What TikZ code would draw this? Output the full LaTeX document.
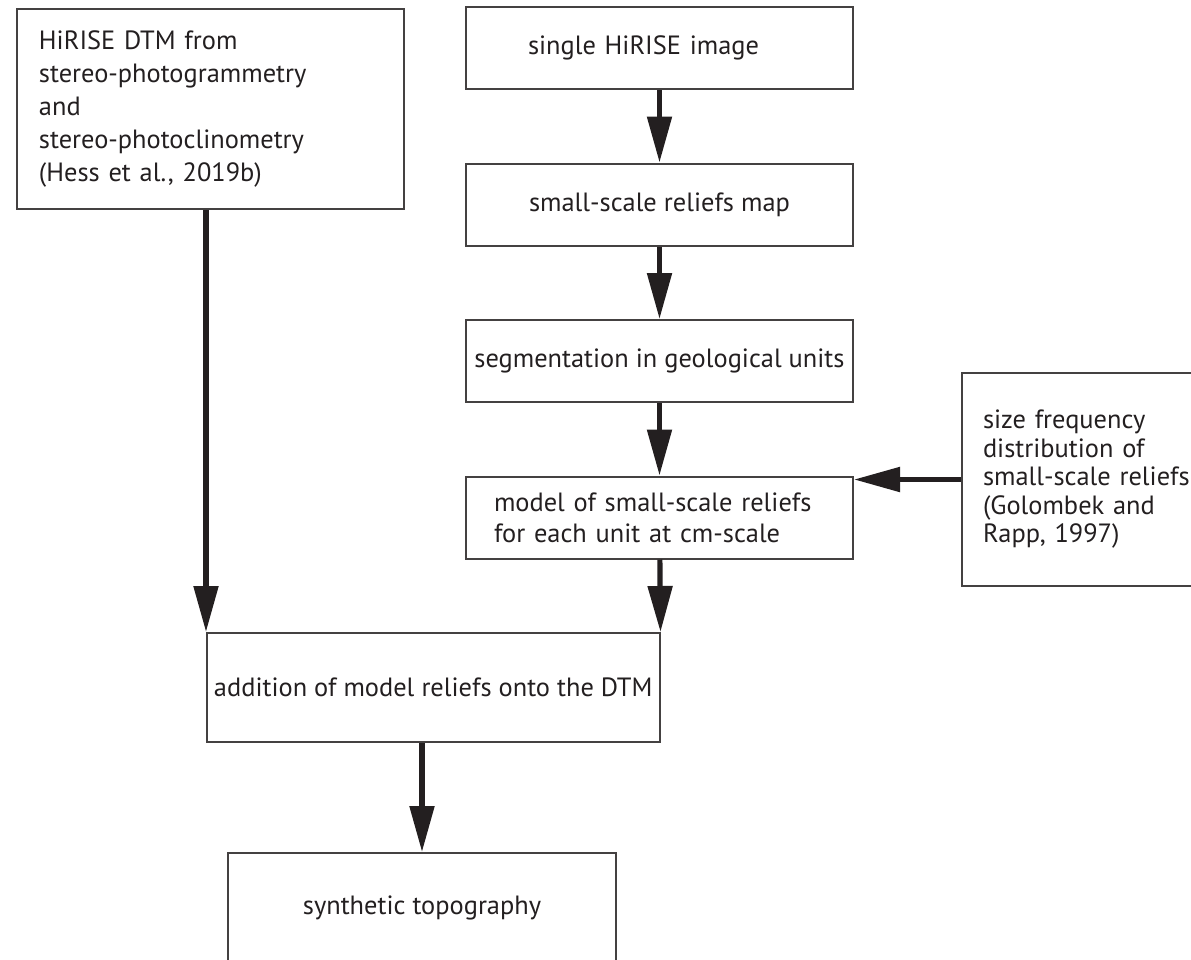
\documentclass[tikz,border=0pt]{standalone}
\usepackage{fontspec}
\setmainfont{PT Sans}
\usepackage{tikz}
\usetikzlibrary{positioning,arrows.meta}
\definecolor{ink}{HTML}{231F20}

\begin{document}
\begin{tikzpicture}[%
x=0.5pt, y=-0.5pt,%
every node/.style={font=\fontsize{13.2}{16.5}\selectfont, text=ink},%
box/.style={draw=ink!85, line width=1pt, inner sep=0pt, minimum width=193.5pt, minimum height=41pt},%
leftbox/.style={box, align=left},%
flow/.style={->,>={Triangle[length=23pt,width=12pt]}, line width=2.6pt, draw=ink},%
node distance=78.25pt,%
  ]
    \useasboundingbox (0,0) rectangle (1191,960);

    % left input
    \node[leftbox, inner xsep=11pt, text width=171pt, minimum height=100pt] (dtm) at (210,109)
      {HiRISE DTM from\\ stereo-photogrammetry\\ and\\ stereo-photoclinometry\\ (Hess et al., 2019b)};

    % right column
    \node[leftbox, inner xsep=31pt, text width=131.5pt] (img) at (659.5,48) {single HiRISE image};

    \node[box] (map) [below of=img] {small-scale reliefs map};

    \node[box] (seg) [below of=map] {segmentation in geological units};

    \node[leftbox, inner xsep=14pt, text width=165.5pt, font=\fontsize{13.2}{15.5}\selectfont] (unit) [below of=seg]
      {model of small-scale reliefs\\ for each unit at cm-scale};

    \node[leftbox, inner xsep=10.5pt, text width=114pt, minimum width=135pt, minimum height=106.5pt,
      font=\fontsize{13.2}{14.25}\selectfont] (sfd) at (1097,479.5)
      {size frequency\\ distribution of\\ small-scale reliefs\\ (Golombek and\\ Rapp, 1997)};

    % merge and output
    \node[box, minimum width=226.25pt, minimum height=54.5pt] (add) at (433.25,687.5)
      {addition of model reliefs onto the DTM};

    \node[box, minimum width=194pt, minimum height=54.5pt] (topo) at (422,907.5) {synthetic topography};

        \draw[flow] (img) -- (map);
        \draw[flow] (map) -- (seg);
        \draw[flow] (seg) -- (unit);
        \draw[flow] (sfd.west) -- (sfd.west -| unit.east);
        \draw[flow] (unit) -- (add.north east);
        \draw[flow] (dtm.south -| add.north west) -- (add.north west);
        \draw[flow] (add.south -| topo.north) -- (topo.north);
  \end{tikzpicture}
\end{document}
